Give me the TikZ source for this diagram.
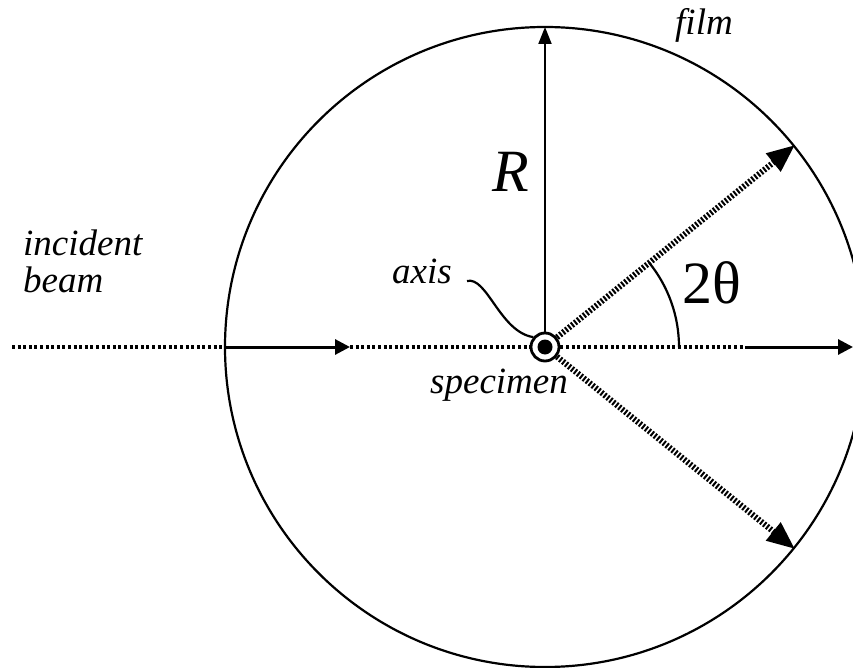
\documentclass[tikz,border=0pt]{standalone}
\usepackage{fontspec}
\setmainfont{Liberation Serif}
\usetikzlibrary{arrows.meta}

\begin{document}
\begin{tikzpicture}[
        x=1pt, y=-1pt,
        lbl/.style   = {inner sep=0pt, font=\fontsize{37}{37}\selectfont\rmfamily\itshape},
        big/.style   = {inner sep=0pt, font=\fontsize{60}{60}\selectfont\rmfamily},
        beam/.style  = {line width=3.4pt, dash pattern=on 3pt off 2.6pt},
        ray/.style   = {-{Triangle[length=15pt, width=15pt]}, line width=3pt},
        rad/.style   = {-{Triangle[length=17pt, width=13pt]}, line width=2pt},
        diff/.style  = {-{Triangle[length=28pt, width=22pt]}, line width=6pt,
                        dash pattern=on 2pt off 1.8pt},
        thin/.style  = {line width=2.2pt},
    ]
        \useasboundingbox (0,0) rectangle (853,668);

        % ---- specimen at the centre of the film ----
        \node (spec) [circle, draw, line width=2.8pt, fill=white,
            minimum size=28pt, inner sep=0pt] at (545,347) {};
        \fill (spec.center) circle[radius=7.5];

        % ---- points on the beam and on the film ----
        \coordinate (bin)  at (12,347);
        \coordinate (fL)   at (225,347);
        \coordinate (tipL) at (350,347);
        \coordinate (fT)   at (545,27);
        \coordinate (oR)   at (745,347);
        \coordinate (tipR) at (853,347);
        \coordinate (d1)   at (795,145);
        \coordinate (d2)   at (795,549);
        \coordinate (acurve) at (467,281);

        % ---- film ----
        \draw[thin] (spec.center) circle[radius=320];

        % ---- incident and transmitted beam ----
        \draw[beam] (bin) -- (fL);
        \draw[ray]  (fL) -- (tipL);
        \draw[beam] (tipL) -- (spec);
        \draw[beam] (spec) -- (oR);
        \draw[ray]  (oR) -- (tipR);

        % ---- radius and diffracted rays ----
        \draw[rad]  (spec) -- (fT);
        \draw[diff] (spec) -- (d1);
        \draw[diff] (spec) -- (d2);

        % ---- angle 2theta ----
        \draw[thin] ([shift={(0:134)}]spec.center)
            arc[start angle=0, end angle=-39, radius=134];

        % ---- labels ----
        \node (inc)   [lbl, anchor=base west, align=left] at (23,292) {incident\\beam};
        \node (film)  [lbl, anchor=base west] at (675,35)  {film};
        \node (axis)  [lbl, anchor=base east] at (452,283) {axis};
        \node (smp)   [lbl, anchor=base west] at (430,393) {specimen};
        \node (rlbl)  [big, anchor=base west, font=\fontsize{60}{60}\selectfont\rmfamily\itshape]
            at (492,192) {R};
        \node (angle) [big, anchor=base west] at (682,303) {2θ};

        \draw[thin] (acurve) .. controls (487,276) and (500,332) .. (spec.140);
    \end{tikzpicture}
\end{document}
